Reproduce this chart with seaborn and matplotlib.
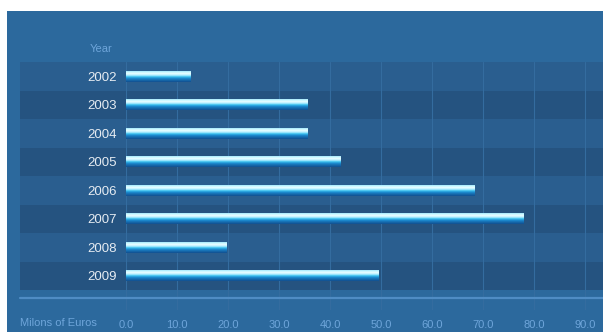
import numpy as np
import pandas as pd
import matplotlib
matplotlib.use("Agg")
import matplotlib.pyplot as plt
from matplotlib.patches import Rectangle
from matplotlib.colors import LinearSegmentedColormap
import seaborn as sns

# Data
years = ["2002", "2003", "2004", "2005", "2006", "2007", "2008", "2009"]
millions_eur = [12.7, 35.5, 35.5, 42.0, 68.3, 77.9, 19.7, 49.5]
x_ticks = [0, 10, 20, 30, 40, 50, 60, 70, 80, 90]
x_tick_labels = ["0.0", "10.0", "20.0", "30.0", "40.0", "50.0", "60.0", "70.0", "80.0", "90.0"]

df = pd.DataFrame({"Year": years, "Value": millions_eur})

# Palette
PANEL = "#2c699d"
BAND_A = "#2a5e8f"
BAND_B = "#255380"
GRID = "#346c9f"
BASELINE = "#4f8cc4"
LABEL_LIGHT = "#e6ecf2"
LABEL_BLUE = "#6ea5da"

sns.set_theme(style="white")
plt.rcParams["font.family"] = ["Liberation Sans", "DejaVu Sans"]

W, H = 603, 332
fig = plt.figure(figsize=(W / 100, H / 100), dpi=100, facecolor="white")
fig.patches.append(Rectangle((7 / W, 0), 1, 1 - 11 / H, transform=fig.transFigure,
                             facecolor=PANEL, edgecolor="none", zorder=-10))

ax_left, ax_right = 126, 603
ax_top, ax_bottom = 62, 310
ax = fig.add_axes([ax_left / W, 1 - ax_bottom / H, (ax_right - ax_left) / W, (ax_bottom - ax_top) / H])
ax.set_facecolor("none")
ax.set_zorder(1)

sns.barplot(data=df, x="Value", y="Year", orient="h", width=0.4, ax=ax,
            color="#38c4ef", saturation=1, edgecolor="none", zorder=3)

# Glossy vertical gradient inside each bar
grad_cmap = LinearSegmentedColormap.from_list(
    "gloss",
    [(0.0, "#3a9edb"), (0.1, "#b4f2ff"), (0.3, "#ecfeff"), (0.45, "#a4eaff"),
     (0.56, "#3cc2ef"), (0.7, "#1a86cc"), (1.0, "#114f8f")])
grad = np.linspace(0, 1, 64).reshape(-1, 1)
for bar in list(ax.patches):
    x0, y0 = bar.get_x(), bar.get_y()
    w, h = bar.get_width(), bar.get_height()
    im = ax.imshow(grad, cmap=grad_cmap, aspect="auto", origin="upper",
                   extent=(x0, x0 + w, y0 + h, y0), zorder=4, interpolation="bilinear")
    im.set_clip_path(bar)
    bar.set_facecolor("none")

n = len(years)
px_per_unit = (ax_bottom - ax_top) / 8.7
ax.set_ylim(7.5 + (ax_bottom - 290) / px_per_unit, -0.5)
x_max = 93.5
ax.set_xlim(0, x_max)

# Alternating row bands, extending left under the year labels
band_xmin = -(ax_left - 20) / (ax_right - ax_left)
for i in range(n):
    ax.axhspan(i - 0.5, i + 0.5, xmin=band_xmin, xmax=1,
               facecolor=BAND_A if i % 2 == 0 else BAND_B, edgecolor="none",
               clip_on=False, zorder=0.2)

# Baseline under the rows
ax.axhline(7.5 + 8 / px_per_unit, xmin=band_xmin, xmax=1, color=BASELINE, lw=1.6,
           clip_on=False, zorder=1)

ax.set_xticks(x_ticks)
ax.set_xticklabels(x_tick_labels)
ax.grid(axis="x", color=GRID, lw=0.8)
ax.grid(axis="y", visible=False)
ax.set_axisbelow(True)
for gl in ax.get_xgridlines():
    gl.set_zorder(0.5)

ax.tick_params(axis="x", length=0, pad=7.5, labelsize=8, labelcolor=LABEL_BLUE)
ax.tick_params(axis="y", length=0, pad=6.5, labelsize=9.5, labelcolor=LABEL_LIGHT)
ax.set_xlabel("")
ax.set_ylabel("")
for s in ax.spines.values():
    s.set_visible(False)

fig.text(20 / W, 1 - 323 / H, "Milons of Euros", color=LABEL_BLUE, fontsize=8,
         ha="left", va="center")
fig.text(90 / W, 1 - 49 / H, "Year", color=LABEL_BLUE, fontsize=8,
         ha="left", va="center")

fig.savefig("out.png", dpi=100, facecolor="white")
